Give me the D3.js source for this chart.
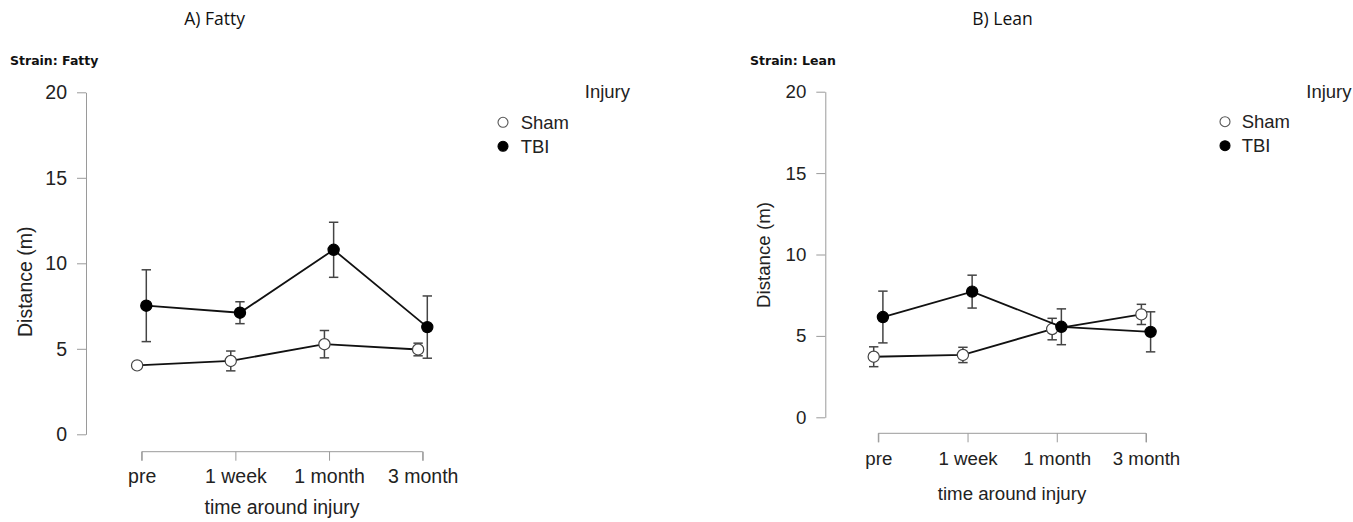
<!DOCTYPE html>
<html>
<head>
<meta charset="utf-8">
<script src="https://cdn.jsdelivr.net/npm/d3@7"></script>
<style>
  body { margin: 0; background: #fff; }
  svg { display: block; }
</style>
</head>
<body>
<svg id="chart" width="1353" height="522"></svg>
<script>
// ---- data ----
const categories = ["pre", "1 week", "1 month", "3 month"];
const yTicks = [0, 5, 10, 15, 20];
const groups = ["Sham", "TBI"];

const fattyShamMean = [4.03, 4.29, 5.27, 4.96];
const fattyShamErr  = [0.0, 0.58, 0.8, 0.37];
const fattyTbiMean  = [7.52, 7.11, 10.79, 6.27];
const fattyTbiErr   = [2.1, 0.64, 1.61, 1.82];

const leanShamMean = [3.72, 3.83, 5.42, 6.32];
const leanShamErr  = [0.61, 0.47, 0.66, 0.62];
const leanTbiMean  = [6.16, 7.72, 5.56, 5.25];
const leanTbiErr   = [1.59, 1.01, 1.1, 1.23];

const svg = d3.select("#chart");
const axisFont = "'Liberation Sans', Arial, Helvetica, sans-serif";

// panel headings
svg.append("text").attr("x", 214.7).attr("y", 25).attr("text-anchor", "middle")
  .style("font-family", "'Open Sans', sans-serif").style("font-size", "17.5px").attr("fill", "#111")
  .text("A) Fatty");
svg.append("text").attr("x", 1002.5).attr("y", 25).attr("text-anchor", "middle")
  .style("font-family", "'Open Sans', sans-serif").style("font-size", "17.5px").attr("fill", "#111")
  .text("B) Lean");

function drawPanel(p) {
  const g = svg.append("g");
  g.append("text").attr("x", p.strainX).attr("y", p.strainY)
    .style("font-family", "'DejaVu Sans', Verdana, sans-serif").style("font-weight", "bold")
    .style("font-size", "12.5px").attr("fill", "#111").text(p.strain);

  const x = d3.scalePoint().domain(categories).range([p.x0, p.x1]);
  const y = d3.scaleLinear().domain([0, 20]).range([p.y0, p.y1]);
  const fs = p.fs;

  // y axis
  const ya = g.append("g").attr("transform", `translate(${p.axisX},0)`)
    .call(d3.axisLeft(y).tickValues(yTicks).tickSize(9).tickSizeOuter(0).tickPadding(10));
  ya.select(".domain").attr("stroke", "#9a9a9a").attr("stroke-width", 1);
  ya.selectAll(".tick line").attr("stroke", "#9a9a9a");
  ya.selectAll(".tick text").style("font-family", axisFont).style("font-size", fs + "px").attr("fill", "#222");

  // x axis
  const xa = g.append("g").attr("transform", `translate(0,${p.axisY})`)
    .call(d3.axisBottom(x).tickSize(9).tickSizeOuter(0).tickPadding(p.xPad));
  xa.select(".domain").attr("stroke", "#9a9a9a").attr("stroke-width", 1)
    .attr("d", `M${p.x0},9V0H${p.x1}V9`);
  xa.selectAll(".tick line").attr("stroke", "#9a9a9a");
  xa.selectAll(".tick text").style("font-family", axisFont).style("font-size", fs + "px").attr("fill", "#222");

  // axis titles
  g.append("text").attr("transform", `translate(${p.yLabX},${p.yLabY}) rotate(-90)`)
    .attr("text-anchor", "middle").attr("dy", "0.35em")
    .style("font-family", axisFont).style("font-size", fs + "px").attr("fill", "#222")
    .text("Distance (m)");
  g.append("text").attr("x", p.xLabX).attr("y", p.xLabY).attr("text-anchor", "middle")
    .style("font-family", axisFont).style("font-size", fs + "px").attr("fill", "#222")
    .text("time around injury");

  // series
  const series = [
    { name: "Sham", mean: p.shamMean, err: p.shamErr, off: -p.dodge, fill: "#fff" },
    { name: "TBI", mean: p.tbiMean, err: p.tbiErr, off: p.dodge, fill: "#000" }
  ];
  series.forEach(s => {
    const pts = categories.map((c, i) => ({ c, m: s.mean[i], e: s.err[i] }));
    const line = d3.line().x(d => x(d.c) + s.off).y(d => y(d.m));
    g.append("path").datum(pts).attr("d", line).attr("fill", "none")
      .attr("stroke", "#111").attr("stroke-width", 1.8);
    const eb = g.append("g").attr("stroke", "#444").attr("stroke-width", 1.5);
    pts.filter(d => d.e > 0).forEach(d => {
      const cx = x(d.c) + s.off;
      eb.append("line").attr("x1", cx).attr("x2", cx).attr("y1", y(d.m - d.e)).attr("y2", y(d.m + d.e));
      eb.append("line").attr("x1", cx - 4.7).attr("x2", cx + 4.7).attr("y1", y(d.m + d.e)).attr("y2", y(d.m + d.e));
      eb.append("line").attr("x1", cx - 4.7).attr("x2", cx + 4.7).attr("y1", y(d.m - d.e)).attr("y2", y(d.m - d.e));
    });
    g.append("g").selectAll("circle").data(pts).join("circle")
      .attr("cx", d => x(d.c) + s.off).attr("cy", d => y(d.m)).attr("r", 5.6)
      .attr("fill", s.fill).attr("stroke", s.name === "Sham" ? "#444" : "#000").attr("stroke-width", 1.2);
  });

  // legend
  g.append("text").attr("x", p.legTitleX).attr("y", p.legTitleY).attr("text-anchor", "end")
    .style("font-family", axisFont).style("font-size", "18.5px").attr("fill", "#222").text("Injury");
  groups.forEach((name, i) => {
    const cy = p.legY0 + i * 24;
    g.append("circle").attr("cx", p.legCX).attr("cy", cy).attr("r", 5)
      .attr("fill", name === "Sham" ? "#fff" : "#000")
      .attr("stroke", name === "Sham" ? "#555" : "#000").attr("stroke-width", 1.1);
    g.append("text").attr("x", p.legTX).attr("y", cy).attr("dy", "0.35em")
      .style("font-family", axisFont).style("font-size", "18.5px").attr("fill", "#222").text(name);
  });
}

drawPanel({
  strain: "Strain: Fatty", strainX: 10, strainY: 65,
  x0: 141.7, x1: 422.7, y0: 434.3, y1: 92.3, axisX: 86, axisY: 451.7,
  fs: 19.5, xPad: 8, dodge: 4.6,
  yLabX: 25, yLabY: 281.7, xLabX: 282, xLabY: 514,
  shamMean: fattyShamMean, shamErr: fattyShamErr, tbiMean: fattyTbiMean, tbiErr: fattyTbiErr,
  legTitleX: 630, legTitleY: 98, legCX: 503, legTX: 520.7, legY0: 122.3
});
drawPanel({
  strain: "Strain: Lean", strainX: 750, strainY: 65,
  x0: 878.3, x1: 1146, y0: 417.3, y1: 91.7, axisX: 825.3, axisY: 433.3,
  fs: 18.7, xPad: 9.2, dodge: 4.6,
  yLabX: 763.3, yLabY: 255, xLabX: 1012, xLabY: 500,
  shamMean: leanShamMean, shamErr: leanShamErr, tbiMean: leanTbiMean, tbiErr: leanTbiErr,
  legTitleX: 1351.5, legTitleY: 98, legCX: 1225, legTX: 1241.7, legY0: 121.7
});
</script>
</body>
</html>
